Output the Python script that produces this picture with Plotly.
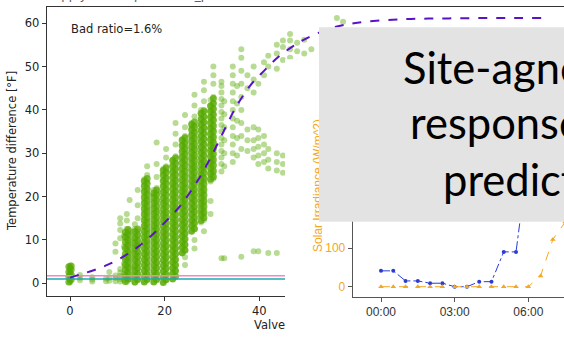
import plotly.graph_objects as go

W, H = 564, 339


def px(x):
    return x / W


def py(y):
    return 1 - y / H


# ---------------- data: left scatter (valve position vs temperature difference) ----
# lighter, scattered points
valve_groups = [0.0, 2.1, 4.7, 7.6, 8.3, 9.6, 10.6, 11.4, 12.0, 12.6, 13.7, 14.3,
                15.7, 16.3, 17.7, 18.3, 19.7, 20.3, 21.7, 22.3, 23.7, 24.3, 25.7,
                26.3, 27.7, 28.3, 29.7, 30.3, 32.0, 32.6, 34.4, 35.3, 36.2, 37.5,
                38.8, 39.8, 41.0, 41.9, 43.7, 45.0, 46.5, 48.0, 49.5, 51.0, 56.4, 57.7]
temp_groups = [
    [0.2, 0.5, 0.9, 1.2, 1.6, 1.9, 2.3, 2.7, 3.0, 3.4, 3.8, 4.1],
    [0.7, 1.3, 1.9],
    [0.4, 0.9, 1.4],
    [0.5, 1.1],
    [0.6, 1.3, 2.6],
    [0.5, 1.2, 1.8, 7.3, 9.2],
    [0.4, 1.0, 1.7, 2.5, 3.3, 10.4, 12.3, 13.8, 15.0],
    [0.8, 2.2, 4.5, 6.0, 8.5, 11.0],
    [0.3, 1.5, 2.8, 4.0, 5.3, 6.5, 7.8, 9.0, 10.3, 11.5, 12.6, 14.5, 16.0],
    [0.9, 2.1, 3.4, 4.6, 5.9, 7.1, 8.4, 9.6, 10.9, 12.0, 19.2],
    [0.2, 1.4, 2.7, 3.9, 5.2, 6.4, 7.7, 8.9, 10.2, 11.4, 12.5, 13.6],
    [0.8, 2.0, 3.3, 4.5, 5.8, 7.0, 8.3, 9.5, 10.8, 12.0, 15.0, 18.0, 21.5],
    [0.3, 1.5, 2.8, 4.0, 5.3, 6.5, 7.8, 9.0, 10.3, 11.5, 12.8, 14.0, 15.3, 16.5,
     17.8, 19.0, 20.3, 21.5, 22.8, 24.0],
    [0.9, 2.1, 3.4, 4.6, 5.9, 7.1, 8.4, 9.6, 10.9, 12.1, 13.4, 14.6, 15.9, 17.1,
     18.4, 19.6, 20.9, 22.1, 23.4, 25.0, 27.0],
    [0.3, 1.5, 2.8, 4.0, 5.3, 6.5, 7.8, 9.0, 10.3, 11.5, 12.8, 14.0, 15.3, 16.5,
     17.8, 19.0, 20.3, 21.5],
    [0.9, 2.1, 3.4, 4.6, 5.9, 7.1, 8.4, 9.6, 10.9, 12.1, 13.4, 14.6, 15.9, 17.1,
     18.4, 19.6, 20.9, 22.0, 24.5, 27.5, 32.5],
    [0.2, 1.4, 2.7, 3.9, 5.2, 6.4, 7.7, 8.9, 10.2, 11.4, 12.7, 13.9, 15.2, 16.4,
     17.7, 18.9, 20.2, 21.4, 22.7, 23.9, 25.2, 26.4],
    [0.8, 2.0, 3.3, 4.5, 5.8, 7.0, 8.3, 9.5, 10.8, 12.0, 13.3, 14.5, 15.8, 17.0,
     18.3, 19.5, 20.8, 22.0, 23.3, 24.5, 25.8, 27.0, 29.0, 31.0],
    [1.0, 2.3, 3.5, 4.8, 6.0, 7.3, 8.5, 9.8, 11.0, 12.3, 13.5, 14.8, 16.0, 17.3,
     18.5, 19.8, 21.0, 22.3, 23.5, 24.8, 26.0, 27.3, 28.5],
    [1.6, 2.9, 4.1, 5.4, 6.6, 7.9, 9.1, 10.4, 11.6, 12.9, 14.1, 15.4, 16.6, 17.9,
     19.1, 20.4, 21.6, 22.9, 24.1, 25.4, 26.6, 27.9, 29.3, 32.0, 34.5, 37.0],
    [7.0, 8.3, 9.5, 10.8, 12.0, 13.3, 14.5, 15.8, 17.0, 18.3, 19.5, 20.8, 22.0,
     23.3, 24.5, 25.8, 27.0, 28.3, 29.5, 30.8, 32.0, 33.3],
    [4.2, 6.0, 7.6, 8.9, 10.1, 11.4, 12.6, 13.9, 15.1, 16.4, 17.6, 18.9, 20.1,
     21.4, 22.6, 23.9, 25.1, 26.4, 27.6, 28.9, 30.1, 31.4, 32.6, 34.0, 36.0, 38.8],
    [12.0, 13.3, 14.5, 15.8, 17.0, 18.3, 19.5, 20.8, 22.0, 23.3, 24.5, 25.8, 27.0,
     28.3, 29.5, 30.8, 32.0, 33.3, 34.5, 35.8, 37.0],
    [8.0, 10.0, 12.6, 13.9, 15.1, 16.4, 17.6, 18.9, 20.1, 21.4, 22.6, 23.9, 25.1,
     26.4, 27.6, 28.9, 30.1, 31.4, 32.6, 33.9, 35.1, 36.4, 38.5, 41.0, 43.5],
    [14.0, 15.3, 16.5, 17.8, 19.0, 20.3, 21.5, 22.8, 24.0, 25.3, 26.5, 27.8, 29.0,
     30.3, 31.5, 32.8, 34.0, 35.3, 36.5, 37.8, 39.0, 40.0],
    [12.0, 14.6, 15.9, 17.1, 18.4, 19.6, 20.9, 22.1, 23.4, 24.6, 25.9, 27.1, 28.4,
     29.6, 30.9, 32.1, 33.4, 34.6, 35.9, 37.1, 38.4, 39.6, 42.0, 44.5, 46.5],
    [16.0, 19.0, 23.5, 24.8, 26.0, 27.3, 28.5, 29.8, 31.0, 32.3, 33.5, 34.8, 36.0,
     37.3, 38.5, 39.8, 41.0, 42.3],
    [24.1, 25.4, 26.6, 27.9, 29.1, 30.4, 31.6, 32.9, 34.1, 35.4, 36.6, 37.9, 39.1,
     40.4, 41.6, 43.0, 46.0, 48.0, 50.0],
    [5.8, 25.8, 27.5, 29.0, 30.5, 32.0, 33.5, 35.0, 36.5, 38.0, 39.5, 41.0, 42.5,
     44.0, 45.5, 46.5],
    [5.8, 27.0, 30.0, 33.0, 36.0, 39.0, 42.0],
    [28.0, 30.0, 32.0, 34.0, 36.0, 38.0, 40.0, 42.0, 44.0, 46.0, 48.0, 50.0],
    [29.5, 33.5, 37.5, 41.5, 45.5],
    [6.1, 31.0, 34.0, 37.0, 40.0, 43.0, 46.0, 49.0, 52.0, 54.0],
    [30.5, 33.0, 35.5, 45.0, 48.0],
    [7.4, 29.0, 31.0, 33.0, 36.0, 44.0, 47.0, 50.0],
    [7.4, 27.5, 29.5, 31.5, 33.5, 35.5, 46.0],
    [28.0, 30.0, 32.0, 34.0, 48.0, 51.0],
    [7.0, 26.5, 28.5, 31.0, 50.0, 52.5],
    [7.0, 26.0, 28.0, 30.0, 49.5, 53.0, 55.0],
    [25.5, 27.5, 29.5, 51.5, 54.5, 56.0],
    [52.0, 54.0, 56.0, 57.5],
    [51.0, 53.5, 55.5],
    [53.0, 56.2],
    [54.0],
    [61.2],
    [60.3],
]

# densely overlapping core of each valve column
core_valve = [-0.25, 0.25, 11.7, 12.3, 13.7, 14.3, 15.7, 16.3, 17.7, 18.3, 19.7,
              20.3, 21.7, 22.3, 23.7, 24.3, 25.7, 26.3, 27.7, 28.3, 29.7, 30.3]
core_temp = [
    [0.3, 1.5, 2.6, 3.8],
    [0.9, 2.0, 3.2, 4.0],
    [0.4, 1.7, 3.1, 4.2, 5.5, 6.8, 8.1, 9.5, 10.6, 11.8],
    [1.0, 2.3, 3.6, 4.9, 6.1, 7.4, 8.8, 10.0, 11.3, 12.4],
    [0.3, 1.6, 2.9, 4.1, 5.5, 6.8, 8.0, 9.3, 10.5, 11.9],
    [0.9, 2.2, 3.5, 4.8, 6.1, 7.3, 8.6, 9.9, 11.2, 12.5],
    [0.3, 1.6, 2.9, 4.2, 5.5, 6.8, 8.1, 9.4, 10.7, 12.0, 13.2, 14.6, 15.9, 17.2,
     18.5, 19.8, 21.1, 22.4, 23.6],
    [0.9, 2.2, 3.5, 4.8, 6.1, 7.4, 8.7, 10.0, 11.3, 12.6, 13.9, 15.2, 16.5, 17.8,
     19.1, 20.4, 21.7, 23.0, 24.2],
    [0.3, 1.6, 2.9, 4.2, 5.5, 6.8, 8.1, 9.4, 10.7, 12.0, 13.3, 14.6, 15.9, 17.2,
     18.5, 19.8, 20.8],
    [0.9, 2.2, 3.5, 4.8, 6.1, 7.4, 8.7, 10.0, 11.3, 12.6, 13.9, 15.2, 16.5, 17.8,
     19.1, 20.4, 21.5],
    [0.2, 1.5, 2.8, 4.1, 5.4, 6.7, 8.0, 9.3, 10.6, 11.9, 13.2, 14.5, 15.8, 17.1,
     18.4, 19.7, 21.0, 22.3, 23.6, 24.9, 26.0],
    [0.8, 2.1, 3.4, 4.7, 6.0, 7.3, 8.6, 9.9, 11.2, 12.5, 13.8, 15.1, 16.4, 17.7,
     19.0, 20.3, 21.6, 22.9, 24.2, 25.5, 26.6],
    [1.0, 2.3, 3.6, 4.9, 6.2, 7.5, 8.8, 10.1, 11.4, 12.7, 14.0, 15.3, 16.6, 17.9,
     19.2, 20.5, 21.8, 23.1, 24.4, 25.7, 27.0, 28.3],
    [1.6, 2.9, 4.2, 5.5, 6.8, 8.1, 9.4, 10.7, 12.0, 13.3, 14.6, 15.9, 17.2, 18.5,
     19.8, 21.1, 22.4, 23.7, 25.0, 26.3, 27.6, 28.9],
    [7.0, 8.3, 9.6, 10.9, 12.2, 13.5, 14.8, 16.1, 17.4, 18.7, 20.0, 21.3, 22.6,
     23.9, 25.2, 26.5, 27.8, 29.1, 30.4, 31.7, 33.0],
    [7.6, 8.9, 10.2, 11.5, 12.8, 14.1, 15.4, 16.7, 18.0, 19.3, 20.6, 21.9, 23.2,
     24.5, 25.8, 27.1, 28.4, 29.7, 31.0, 32.3, 33.6],
    [12.0, 13.3, 14.6, 15.9, 17.2, 18.5, 19.8, 21.1, 22.4, 23.7, 25.0, 26.3, 27.6,
     28.9, 30.2, 31.5, 32.8, 34.1, 35.4, 36.6],
    [12.6, 13.9, 15.2, 16.5, 17.8, 19.1, 20.4, 21.7, 23.0, 24.3, 25.6, 26.9, 28.2,
     29.5, 30.8, 32.1, 33.4, 34.7, 36.0, 37.2],
    [14.5, 15.8, 17.1, 18.4, 19.7, 21.0, 22.3, 23.6, 24.9, 26.2, 27.5, 28.8, 30.1,
     31.4, 32.7, 34.0, 35.3, 36.6, 37.9, 39.2],
    [15.1, 16.4, 17.7, 19.0, 20.3, 21.6, 22.9, 24.2, 25.5, 26.8, 28.1, 29.4, 30.7,
     32.0, 33.3, 34.6, 35.9, 37.2, 38.5, 39.8],
    [24.0, 25.3, 26.6, 27.9, 29.2, 30.5, 31.8, 33.1, 34.4, 35.7, 37.0, 38.3, 39.6,
     40.9],
    [24.6, 25.9, 27.2, 28.5, 29.8, 31.1, 32.4, 33.7, 35.0, 36.3, 37.6, 38.9, 40.2,
     41.5, 42.6],
]

fit_valve = [0, 2, 5, 8, 11, 14, 17, 20, 23, 26, 29, 32, 35, 38, 41, 44, 47, 50,
             55, 60, 70, 80, 90, 100]
fit_temp = [1.3, 2.0, 3.0, 4.3, 6.0, 8.1, 10.8, 14.0, 17.5, 22.0, 27.5, 34.0,
            40.5, 45.5, 49.0, 52.2, 54.6, 56.5, 58.8, 60.0, 60.9, 61.1, 61.2, 61.2]

upper_threshold = 1.75
lower_threshold = 1.0
bad_ratio_text = "Bad ratio=1.6%"

# ---------------- data: right time series ----------------
hours = [0, 0.5, 1, 1.5, 2, 2.5, 3, 3.5, 4, 4.5, 5, 5.5, 6, 6.5, 7, 7.5]
blue_series = [41, 41, 15, 15, 9, 9, 0, 0, 13, 13, 90, 90, 335, 410, 480, 530]
solar_irradiance = [0, 0, 0, 0, 0, 0, 0, 0, 0, 0, 0, 0, 0, 28, 122, 167]
time_tickvals = [0, 3, 6]
time_ticktext = ["00:00", "03:00", "06:00"]
irr_tickvals = [0, 100]

title_lines = ["Site-agnostic", "response", "prediction"]


def flatten(xs, groups):
    fx, fy = [], []
    for v, temps in zip(xs, groups):
        for t in temps:
            fx.append(v)
            fy.append(t)
    return fx, fy


sx, sy = flatten(valve_groups, temp_groups)
cx, cy = flatten(core_valve, core_temp)

GREEN = "rgb(86,170,0)"
PURPLE = "#5A12C8"
ORANGE = "#F5A623"
BLUE = "#2B3BD6"

fig = go.Figure()

fig.add_trace(go.Scatter(
    x=sx, y=sy, mode="markers", xaxis="x", yaxis="y",
    marker=dict(size=6, color=GREEN, opacity=0.42, line=dict(width=0)),
    hoverinfo="skip", showlegend=False))
fig.add_trace(go.Scatter(
    x=cx, y=cy, mode="markers", xaxis="x", yaxis="y",
    marker=dict(size=7, color=GREEN, opacity=0.75, line=dict(width=0)),
    hoverinfo="skip", showlegend=False))

x_span = [-4.93, 104.4]
fig.add_trace(go.Scatter(
    x=x_span, y=[upper_threshold, upper_threshold], mode="lines",
    line=dict(color="#FF7FC8", width=1.5), xaxis="x", yaxis="y",
    hoverinfo="skip", showlegend=False))
fig.add_trace(go.Scatter(
    x=x_span, y=[lower_threshold, lower_threshold], mode="lines",
    line=dict(color="#17AFAF", width=1.5), xaxis="x", yaxis="y",
    hoverinfo="skip", showlegend=False))
fig.add_trace(go.Scatter(
    x=fit_valve, y=fit_temp, mode="lines", line_shape="spline",
    line=dict(color=PURPLE, width=2, dash="dash"), xaxis="x", yaxis="y",
    hoverinfo="skip", showlegend=False))

# white mask for the pasted second chart
fig.add_trace(go.Scatter(
    x=[-0.1, 1.1, 1.1, -0.1, -0.1], y=[-0.1, -0.1, 1.1, 1.1, -0.1],
    mode="lines", fill="toself", fillcolor="white",
    line=dict(width=0, color="white"), xaxis="x2", yaxis="y2",
    hoverinfo="skip", showlegend=False))

fig.add_trace(go.Scatter(
    x=hours, y=blue_series, mode="lines+markers", xaxis="x3", yaxis="y3",
    line=dict(color=BLUE, width=1, dash="dashdot"),
    marker=dict(size=4, color=BLUE), hoverinfo="skip", showlegend=False))
fig.add_trace(go.Scatter(
    x=hours, y=solar_irradiance, mode="lines+markers", xaxis="x3", yaxis="y3",
    line=dict(color=ORANGE, width=1, dash="dash"),
    marker=dict(size=5, color=ORANGE, symbol="triangle-up"),
    hoverinfo="skip", showlegend=False))

left_font = dict(family="DejaVu Sans", size=11.5, color="#222")
right_font = dict(family="Liberation Sans, Arial", size=12, color="#333")

fig.update_layout(
    width=W, height=H, margin=dict(l=0, r=0, t=0, b=0),
    paper_bgcolor="white", plot_bgcolor="rgba(0,0,0,0)",
    showlegend=False,
    xaxis=dict(domain=[px(46.7), 1], range=x_span, anchor="y",
               tickvals=[0, 20, 40], ticks="outside", ticklen=4,
               tickcolor="#333", tickfont=left_font, showgrid=False,
               zeroline=False, showline=True, linecolor="#333", linewidth=1,
               mirror=True),
    yaxis=dict(domain=[py(296), py(6.7)], range=[-2.93, 63.8], anchor="x",
               tickvals=[0, 10, 20, 30, 40, 50, 60], ticks="outside",
               ticklen=4, tickcolor="#333", tickfont=left_font,
               showgrid=False, zeroline=False, showline=True,
               linecolor="#333", linewidth=1),
    xaxis2=dict(domain=[px(285), 1], range=[0, 1], anchor="y2", visible=False),
    yaxis2=dict(domain=[0, py(59.3)], range=[0, 1], anchor="x2", visible=False),
    xaxis3=dict(domain=[px(352.7), 1], range=[-1.153, 7.454], anchor="y3",
                tickvals=time_tickvals, ticktext=time_ticktext,
                ticks="outside", ticklen=4, tickcolor="#555",
                tickfont=right_font, showgrid=False, zeroline=False,
                showline=True, linecolor="#555", linewidth=1),
    yaxis3=dict(domain=[py(296.7), py(59.3)], range=[-25.8, 587.6],
                anchor="x3", tickvals=irr_tickvals, ticks="outside",
                ticklen=4, tickcolor="#555",
                tickfont=dict(family="Liberation Sans, Arial", size=12,
                              color=ORANGE),
                showgrid=False, zeroline=False, showline=True,
                linecolor="#555", linewidth=1),
)

# rotated y-title of the pasted chart (shape label, so the grey box covers it)
fig.add_shape(type="line", xref="paper", yref="paper",
              x0=px(317), x1=px(317), y0=py(253), y1=py(118),
              line=dict(color="rgba(0,0,0,0)", width=1), layer="above",
              label=dict(text="Solar Irradiance (W/m^2)", textangle=-90,
                         textposition="middle", yanchor="middle",
                         font=dict(family="Liberation Sans, Arial", size=12,
                                   color=ORANGE)))
# grey title box
fig.add_shape(type="rect", xref="paper", yref="paper",
              x0=px(319), x1=1.02, y0=py(221.7), y1=py(27.3),
              fillcolor="#E3E3E3", line=dict(width=0), layer="above")

big_font = dict(family="Lato", size=43.5, color="black")
for text, x_left, y_mid in zip(title_lines, [401, 408, 441], [67, 122, 178.5]):
    fig.add_annotation(text=text, xref="paper", yref="paper", x=px(x_left),
                       y=py(y_mid), xanchor="left", yanchor="middle",
                       showarrow=False, font=big_font)

fig.add_annotation(text=bad_ratio_text, xref="paper", yref="paper", x=px(69),
                   y=py(29), xanchor="left", yanchor="middle", showarrow=False,
                   font=left_font)
fig.add_annotation(text="Temperature difference [°F]", xref="paper",
                   yref="paper", x=px(12), y=py(151), textangle=-90,
                   xanchor="center", yanchor="middle", showarrow=False,
                   font=left_font)
fig.add_annotation(text="Valve", xref="paper", yref="paper", x=px(252),
                   y=py(325), xanchor="left", yanchor="middle",
                   showarrow=False, font=left_font)
fig.add_annotation(text="Supply air temp vs valve_position", xref="paper",
                   yref="paper", x=px(44), y=py(4), xanchor="left",
                   yanchor="bottom", showarrow=False,
                   font=dict(family="DejaVu Sans", size=12, color="#555"))

fig.write_html("out.html",
               config={"displayModeBar": False},
               post_script="document.body.style.margin='0';"
                           "document.body.style.overflow='hidden';")
